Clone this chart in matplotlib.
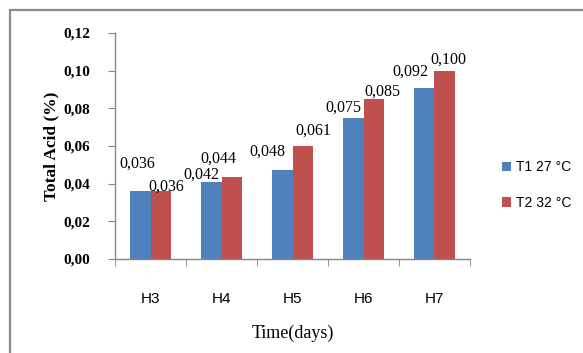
import numpy as np
import matplotlib.pyplot as plt
from matplotlib.patches import Rectangle

days = ['H3', 'H4', 'H5', 'H6', 'H7']
t1_values = [0.036, 0.041, 0.0475, 0.075, 0.091]
t2_values = [0.036, 0.0433, 0.060, 0.085, 0.100]
t1_labels = ['0,036', '0,042', '0,048', '0,075', '0,092']
t2_labels = ['0,036', '0,044', '0,061', '0,085', '0,100']
series_names = ['T1 27 °C', 'T2 32 °C']

# manual label offsets in pixels (the original labels were dragged around)
t1_offsets = [(-2.5, 28), (-10, 7.5), (-14.5, 17.5), (-9.5, 10), (-13.5, 15.5)]
t2_offsets = [(5, 5), (-13, 18.5), (11, 15), (9, 7), (4, 11.5)]

blue = '#4F81BD'
red = '#C0504D'
axis_grey = '#868686'
serif = 'Liberation Serif'
sans = 'Liberation Sans'

fig = plt.figure(figsize=(5.83, 3.53), dpi=100)
W, H = 583, 353

# outer chart frame (extends past the image on the right and bottom)
fig.patches.append(Rectangle((10 / W, -0.1), 1.2, 1 - 10 / H + 0.1,
                             transform=fig.transFigure, fill=False,
                             edgecolor='#8C8C8C', linewidth=1.6))

ax = fig.add_axes([115 / W, 1 - 259 / H, 355 / W, 226 / H])

x = np.arange(len(days))
bw = 0.29
b1 = ax.bar(x - bw / 2, t1_values, bw, color=blue, label=series_names[0])
b2 = ax.bar(x + bw / 2, t2_values, bw, color=red, label=series_names[1])

for bars, labels, offs in [(b1, t1_labels, t1_offsets), (b2, t2_labels, t2_offsets)]:
    for rect, lab, (dx, dy) in zip(bars, labels, offs):
        ax.annotate(lab, (rect.get_x() + rect.get_width() / 2, rect.get_height()),
                    xytext=(dx, dy), textcoords='offset pixels',
                    ha='center', va='center', fontsize=11.5, family=serif)

ax.set_xlim(-0.5, len(days) - 0.5)
ax.set_ylim(0, 0.12)
ax.set_yticks(np.arange(0, 0.121, 0.02))
ax.set_yticklabels([f'{v:.2f}'.replace('.', ',') for v in np.arange(0, 0.121, 0.02)],
                   family=serif, fontweight='bold', fontsize=11)
ax.set_xticks(x)
ax.set_xticklabels(days, family=sans, fontsize=11)
ax.set_xticks(np.arange(-0.5, len(days)), minor=True)
ax.tick_params(axis='x', which='major', length=0, pad=24)
ax.tick_params(axis='x', which='minor', length=5, color=axis_grey, direction='out')
ax.tick_params(axis='y', length=5, color=axis_grey, direction='out', pad=13)

for s in ['top', 'right']:
    ax.spines[s].set_visible(False)
for s in ['left', 'bottom']:
    ax.spines[s].set_color(axis_grey)
    ax.spines[s].set_linewidth(1.0)

ax.set_ylabel('Total Acid (%)', family=serif, fontweight='bold', fontsize=12.5, labelpad=3)
ax.set_xlabel('Time(days)', family=serif, fontsize=13, labelpad=13)

leg = fig.legend(loc='center left', bbox_to_anchor=(502 / W, 1 - 185 / H),
                 frameon=False, prop={'family': sans, 'size': 10},
                 handlelength=0.65, handleheight=0.65, handletextpad=0.35,
                 labelspacing=1.55, borderpad=0, borderaxespad=0)

fig.savefig('out.png', dpi=100)
